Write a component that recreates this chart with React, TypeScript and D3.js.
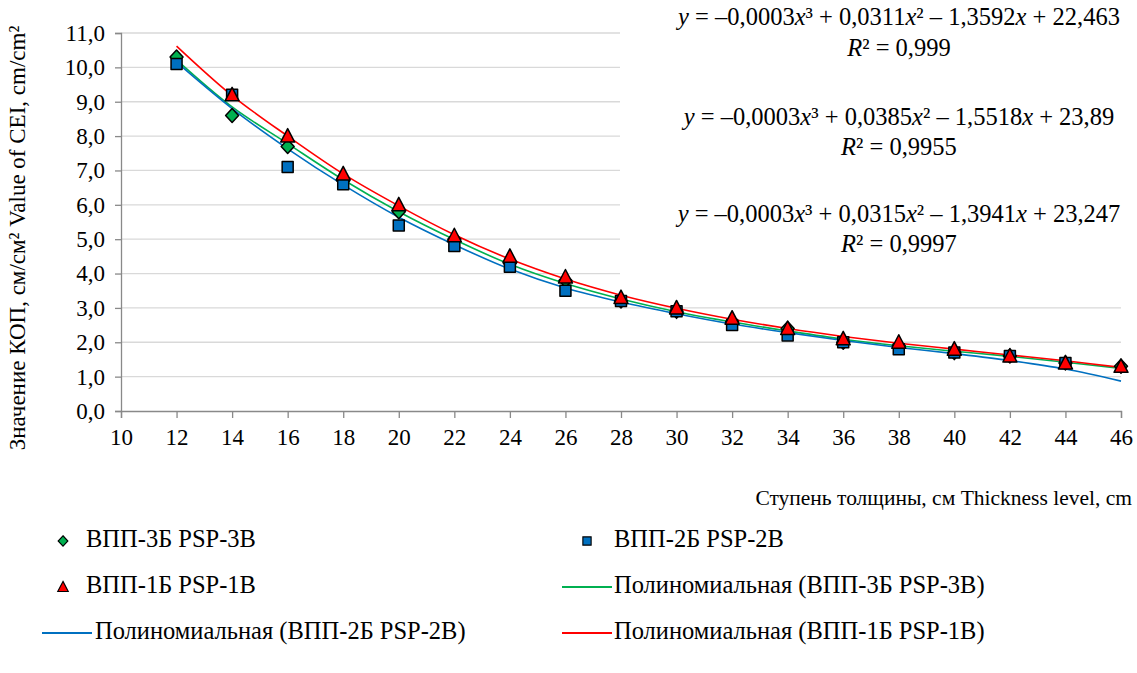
import * as d3 from 'd3';
import React, { useEffect, useRef } from 'react';

const thickness = [12, 14, 16, 18, 20, 22, 24, 26, 28, 30, 32, 34, 36, 38, 40, 42, 44, 46];

// measured points
const psp3 = [10.3, 8.6, 7.7, 6.7, 5.8, 5.0, 4.3, 3.8, 3.2, 2.9, 2.6, 2.4, 2.0, 1.9, 1.7, 1.6, 1.4, 1.3];
const psp2 = [10.1, 9.2, 7.1, 6.6, 5.4, 4.8, 4.2, 3.5, 3.2, 2.9, 2.5, 2.2, 2.0, 1.8, 1.7, 1.6, 1.4, null];
const psp1 = [null, 9.2, 8.0, 6.9, 6.0, 5.1, 4.5, 3.9, 3.3, 3.0, 2.7, 2.4, 2.1, 2.0, 1.8, 1.6, 1.4, 1.3];

// polynomial trend lines
const trend3 = [10.22, 8.85, 7.78, 6.73, 5.8, 4.99, 4.27, 3.71, 3.26, 2.89, 2.59, 2.33, 2.09, 1.9, 1.74, 1.59, 1.42, 1.24];
const trend2 = [10.15, 8.8, 7.63, 6.58, 5.64, 4.84, 4.13, 3.58, 3.17, 2.83, 2.53, 2.28, 2.05, 1.85, 1.67, 1.47, 1.22, 0.87];
const trend1 = [10.62, 9.18, 8.0, 6.9, 5.97, 5.13, 4.42, 3.84, 3.37, 2.99, 2.67, 2.4, 2.17, 1.97, 1.8, 1.63, 1.46, 1.27];

const xTicks = [10, 12, 14, 16, 18, 20, 22, 24, 26, 28, 30, 32, 34, 36, 38, 40, 42, 44, 46];
const yTicks = [0, 1, 2, 3, 4, 5, 6, 7, 8, 9, 10, 11];

const equations = [
  ['y = –0,0003x³ + 0,0311x² – 1,3592x + 22,463', 'R² = 0,999'],
  ['y = –0,0003x³ + 0,0385x² – 1,5518x + 23,89', 'R² = 0,9955'],
  ['y = –0,0003x³ + 0,0315x² – 1,3941x + 23,247', 'R² = 0,9997'],
];

const GREEN = '#00B050';
const BLUE = '#0070C0';
const RED = '#FF0000';
const FONT = "'Liberation Serif', 'Times New Roman', serif";

type Pt = { x: number; y: number | null };
const zip = (vals: (number | null)[]): Pt[] => thickness.map((x, i) => ({ x, y: vals[i] }));

const App: React.FC = () => {
  const svgRef = useRef<SVGSVGElement>(null);

  useEffect(() => {
    if (!svgRef.current) return;
    const svg = d3.select(svgRef.current);
    svg.selectAll('*').remove();

    const x = d3.scaleLinear().domain([10, 46]).range([121, 1121]);
    const y = d3.scaleLinear().domain([0, 11]).range([411, 33]);
    const axisColor = '#898989';
    const fmt = (v: number) => d3.format('.1f')(v).replace('.', ',');

    // gridlines
    svg.append('g')
      .selectAll('line')
      .data(yTicks.slice(1))
      .join('line')
      .attr('x1', x(10)).attr('x2', x(46))
      .attr('y1', d => y(d)).attr('y2', d => y(d))
      .attr('stroke', '#D9D9D9').attr('stroke-width', 1.3);

    // white boxes behind trend equations
    const boxes = [[0, 74], [96, 176], [190, 292]];
    svg.append('g')
      .selectAll('rect')
      .data(boxes)
      .join('rect')
      .attr('x', 620).attr('width', 517)
      .attr('y', d => d[0]).attr('height', d => d[1] - d[0])
      .attr('fill', '#fff');

    // axes
    const yAxis = svg.append('g')
      .attr('transform', `translate(${x(10)},0)`)
      .call(d3.axisLeft(y).tickValues(yTicks).tickSize(6).tickPadding(10).tickFormat(d => fmt(d as number)));
    const xAxis = svg.append('g')
      .attr('transform', `translate(0,${y(0)})`)
      .call(d3.axisBottom(x).tickValues(xTicks).tickSize(7).tickPadding(11).tickFormat(d3.format('d')));
    [yAxis, xAxis].forEach(g => {
      g.attr('font-family', null).attr('font-size', null);
      g.select('.domain').attr('stroke', axisColor).attr('stroke-width', 1.3);
      g.selectAll('.tick line').attr('stroke', axisColor).attr('stroke-width', 1.3);
      g.selectAll('.tick text').attr('fill', '#000').style('font-family', FONT).style('font-size', '23px');
    });

    // trend lines
    const line = d3.line<Pt>()
      .defined(d => d.y != null)
      .x(d => x(d.x))
      .y(d => y(d.y as number))
      .curve(d3.curveCatmullRom.alpha(0.5));
    const trends: [number[], string][] = [[trend3, GREEN], [trend2, BLUE], [trend1, RED]];
    trends.forEach(([vals, c]) => {
      svg.append('path')
        .datum(zip(vals))
        .attr('fill', 'none')
        .attr('stroke', c)
        .attr('stroke-width', 1.6)
        .attr('d', line);
    });

    // markers
    const diamond = 'M0,-7L6.5,0L0,7L-6.5,0Z';
    const square = 'M-5.5,-5.5H5.5V5.5H-5.5Z';
    const triangle = 'M0,-7.5L7,6L-7,6Z';
    const series: [(number | null)[], string, string][] = [
      [psp3, diamond, GREEN],
      [psp2, square, BLUE],
      [psp1, triangle, RED],
    ];
    series.forEach(([vals, shape, c]) => {
      svg.append('g')
        .selectAll('path')
        .data(zip(vals).filter(d => d.y != null))
        .join('path')
        .attr('transform', d => `translate(${x(d.x)},${y(d.y as number)})`)
        .attr('d', shape)
        .attr('fill', c)
        .attr('stroke', '#000')
        .attr('stroke-width', 1.5)
        .attr('stroke-linejoin', 'round');
    });

    // equations
    const eqY = [[19, 50], [119, 149], [216, 246]];
    const eqG = svg.append('g').attr('text-anchor', 'middle').style('font-family', FONT).style('font-size', '24.5px');
    equations.forEach((pair, i) => {
      pair.forEach((str, j) => {
        const t = eqG.append('text')
          .attr('x', 899)
          .attr('y', eqY[i][j])
          .attr('dominant-baseline', 'middle');
        const runs = str.match(/[xyR]|[^xyR]+/g) || [];
        runs.forEach(r => {
          t.append('tspan')
            .attr('font-style', /^[xyR]$/.test(r) ? 'italic' : 'normal')
            .text(r);
        });
      });
    });

    // axis titles
    svg.append('text')
      .attr('transform', `translate(25,238) rotate(-90)`)
      .attr('text-anchor', 'middle')
      .style('font-family', FONT)
      .style('font-size', '23px')
      .text('Значение КОП, см/см² Value of CEI, cm/cm²');
    svg.append('text')
      .attr('x', 1132)
      .attr('y', 505)
      .attr('text-anchor', 'end')
      .style('font-family', FONT)
      .style('font-size', '21.5px')
      .text('Ступень толщины, см Thickness level, cm');

    // legend
    const legend = [
      { label: 'ВПП-3Б PSP-3B', kind: 'm', shape: diamond, c: GREEN, col: 0, row: 0 },
      { label: 'ВПП-2Б PSP-2B', kind: 'm', shape: square, c: BLUE, col: 1, row: 0 },
      { label: 'ВПП-1Б PSP-1B', kind: 'm', shape: triangle, c: RED, col: 0, row: 1 },
      { label: 'Полиномиальная (ВПП-3Б PSP-3B)', kind: 'l', shape: '', c: GREEN, col: 1, row: 1 },
      { label: 'Полиномиальная (ВПП-2Б PSP-2B)', kind: 'l', shape: '', c: BLUE, col: 0, row: 2 },
      { label: 'Полиномиальная (ВПП-1Б PSP-1B)', kind: 'l', shape: '', c: RED, col: 1, row: 2 },
    ];
    const lg = svg.append('g');
    legend.forEach(it => {
      const ox = it.col === 0 ? 42 : 562;
      const oy = 541 + it.row * 46;
      const g = lg.append('g').attr('transform', `translate(${ox},${oy})`);
      if (it.kind === 'm') {
        g.append('path')
          .attr('transform', `translate(${it.col === 0 ? 21 : 25},0) scale(0.75)`)
          .attr('d', it.shape)
          .attr('fill', it.c)
          .attr('stroke', '#000')
          .attr('stroke-width', 1.5);
      } else {
        g.append('line')
          .attr('x1', 0).attr('x2', 50)
          .attr('stroke', it.c).attr('stroke-width', 2);
      }
      g.append('text')
        .attr('x', it.col === 1 ? 52 : it.kind === 'm' ? 44 : 53)
        .attr('dominant-baseline', 'middle')
        .style('font-family', FONT)
        .style('font-size', '24.5px')
        .text(it.label);
    });
  }, []);

  return (
    <svg
      ref={svgRef}
      width={1137}
      height={673}
      style={{ position: 'absolute', left: 0, top: 0, background: '#fff' }}
    />
  );
};

export default App;
